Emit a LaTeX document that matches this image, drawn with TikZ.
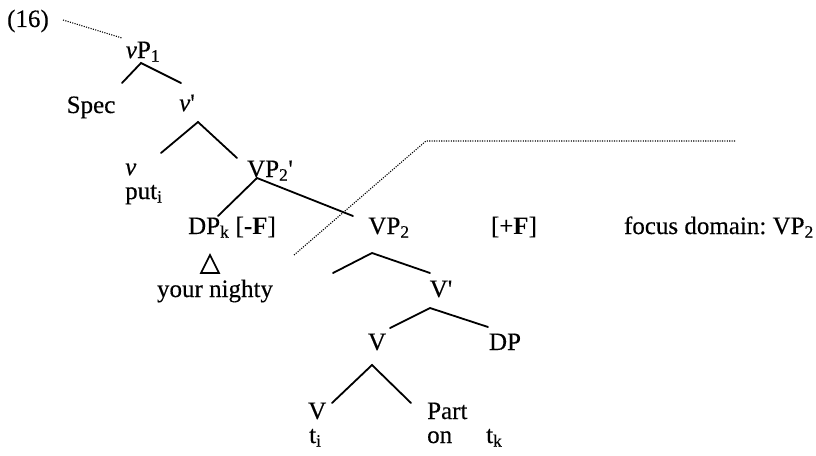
\documentclass[tikz,border=0pt]{standalone}
\usepackage{fontspec}
\setmainfont{Liberation Serif}[
  UprightFeatures={FakeBold=0.35},
  ItalicFeatures={FakeBold=0.35}]
\newcommand{\sbs}[1]{\textsubscript{#1}}
\newcommand{\prm}{\textquotesingle}
\frenchspacing
\begin{document}
\begin{tikzpicture}[x=1pt,y=-1pt,
  lbl/.style={inner sep=0pt, anchor=base, font=\fontsize{25}{29}\selectfont},
  lbll/.style={lbl, anchor=base west},
  lblr/.style={lbl, anchor=base east},
  branch/.style={line width=1.8pt, line cap=round},
  dots/.style={line width=1.1pt, dash pattern=on 1.1pt off 1.3pt}]
\useasboundingbox (0,0) rectangle (816,455);

% labels
\node[lbl] (ex) at (28,27) {(16)};
\node[lbl] (vP1) at (143,58) {\textit{v}P\sbs{1}};
\node[lbl] (spec) at (91,113) {Spec};
\node[lbl] (vbar) at (187,111) {\textit{v}\prm};
\node[lbll] (vhead) at (125,175) {\textit{v}};
\node[lbll] (put) at (125,199) {put\sbs{i}};
\node[lbl] (VP2p) at (270,177) {VP\sbs{2}\prm};
\node[lbl] (DPk) at (232,234) {DP\sbs{k} [-\textbf{F}]};
\node[lbl] (nighty) at (215,297) {your nighty};
\node[lbl] (VP2) at (389,234) {VP\sbs{2}};
\node[lbl] (plusF) at (514,234) {[+\textbf{F}]};
\node[lblr] (focus) at (814,234) {focus domain: VP\sbs{2}};
\node[lbl] (Vbar) at (441,297) {V\prm};
\node[lbl] (Vmid) at (377,350) {V};
\node[lbl] (DP) at (505,350) {DP};
\node[lbll] (Vlow) at (308,419) {V};
\node[lbll] (part) at (427,419) {Part};
\node[lbll] (ti) at (309,443) {t\sbs{i}};
\node[lbll] (on) at (427,443) {on};
\node[lbll] (tk) at (486,443) {t\sbs{k}};

% branch points
\coordinate (a1) at (141,63);  \coordinate (a1l) at (122,83);  \coordinate (a1r) at (181,83);
\coordinate (a2) at (198,122); \coordinate (a2l) at (161,153); \coordinate (a2r) at (237,158);
\coordinate (a3) at (257,178); \coordinate (a3l) at (218,216); \coordinate (a3r) at (353,216);
\coordinate (a4) at (372,253); \coordinate (a4l) at (333,273); \coordinate (a4r) at (430,273);
\coordinate (a5) at (430,308); \coordinate (a5l) at (390,328); \coordinate (a5r) at (488,327);
\coordinate (a6) at (372,365); \coordinate (a6l) at (332,403); \coordinate (a6r) at (411,403);

% branches
\draw[branch] (a1l) -- (a1) -- (a1r);
\draw[branch] (a2l) -- (a2) -- (a2r);
\draw[branch] (a3l) -- (a3) -- (a3r);
\draw[branch] (a4l) -- (a4) -- (a4r);
\draw[branch] (a5l) -- (a5) -- (a5r);
\draw[branch] (a6l) -- (a6) -- (a6r);

% triangle over the DP
\coordinate (t1) at (201,273); \coordinate (t2) at (210,255); \coordinate (t3) at (219,273);
\draw[line width=1.7pt, line join=miter] (t1) -- (t2) -- (t3) -- cycle;

% dotted guides
\coordinate (d0) at (63,20); \coordinate (d1) at (122,38);
\draw[dots] (d0) -- (d1);
\coordinate (f0) at (294,255); \coordinate (f1) at (426,141); \coordinate (f2) at (735,141);
\draw[dots] (f0) -- (f1) -- (f2);
\end{tikzpicture}
\end{document}
